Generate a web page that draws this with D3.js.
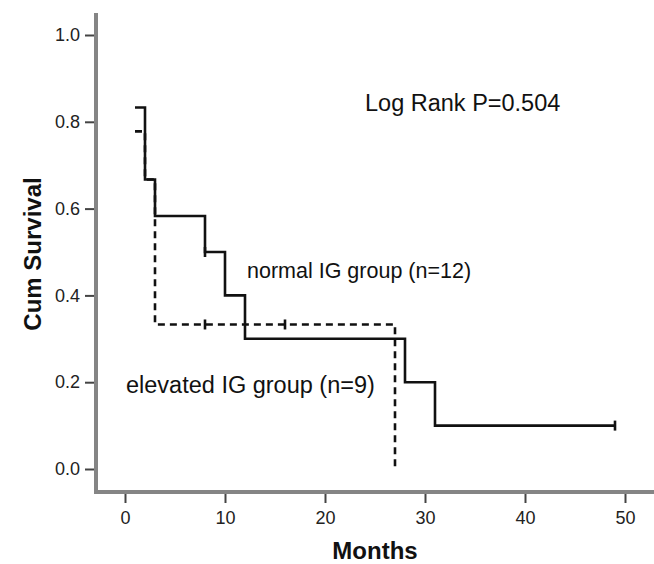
<!DOCTYPE html>
<html>
<head>
<meta charset="utf-8">
<script src="https://cdn.jsdelivr.net/npm/d3@7"></script>
<style>
  body { margin: 0; background: #fff; }
  svg { font-family: "Liberation Sans", Arial, sans-serif; }
  .axis text { font-size: 18px; fill: #222; }
  .axis line { stroke: #444; stroke-width: 2; }
  .axis-label { font-size: 24px; font-weight: bold; fill: #111; }
  .note { fill: #111; }
</style>
</head>
<body>
<div id="km"></div>
<script>
const width = 654, height = 564;

// data
const yTicks = [0, 0.2, 0.4, 0.6, 0.8, 1.0];
const xTicks = [0, 10, 20, 30, 40, 50];

// normal IG group (n=12): step starts and survival
const normalTimes = [1, 2, 3, 8, 10, 12, 28, 31, 49];
const normalSurv = [0.833, 0.667, 0.583, 0.5, 0.4, 0.3, 0.2, 0.1, 0.1];
const normalCensor = [[8, 0.5], [49, 0.1]];

// elevated IG group (n=9)
const elevTimes = [1, 2, 3, 27, 27];
const elevSurv = [0.778, 0.667, 0.333, 0.333, 0];
const elevCensor = [[8, 0.333], [16, 0.333]];

const svg = d3.select("#km")
  .append("svg")
  .attr("width", width)
  .attr("height", height);

const x = d3.scaleLinear().domain([0, 50]).range([125, 625]);
const y = d3.scaleLinear().domain([0, 1]).range([469, 35]);

// axis lines (thick gray, SPSS style)
svg.append("line")
  .attr("x1", 96).attr("x2", 96).attr("y1", 13).attr("y2", 493)
  .attr("stroke", "#858585").attr("stroke-width", 4);
svg.append("line")
  .attr("x1", 94).attr("x2", width).attr("y1", 492).attr("y2", 492)
  .attr("stroke", "#858585").attr("stroke-width", 4);

// y axis ticks
const yAxis = svg.append("g")
  .attr("class", "axis")
  .attr("transform", "translate(94,0)")
  .call(d3.axisLeft(y).tickValues(yTicks).tickSize(9).tickPadding(5).tickFormat(d3.format(".1f")));
yAxis.select(".domain").remove();

// x axis ticks
const xAxis = svg.append("g")
  .attr("class", "axis")
  .attr("transform", "translate(0,494)")
  .call(d3.axisBottom(x).tickValues(xTicks).tickSize(9).tickPadding(8));
xAxis.select(".domain").remove();

// axis labels
svg.append("text")
  .attr("class", "axis-label")
  .attr("transform", "translate(41,254) rotate(-90)")
  .attr("text-anchor", "middle")
  .text("Cum Survival");

svg.append("text")
  .attr("class", "axis-label")
  .attr("x", 375)
  .attr("y", 559)
  .attr("text-anchor", "middle")
  .text("Months");

// survival curves
const line = d3.line()
  .x(d => x(d[0]))
  .y(d => y(d[1]))
  .curve(d3.curveStepAfter);

const normalPts = normalTimes.map((t, i) => [t, normalSurv[i]]);
const elevPts = elevTimes.map((t, i) => [t, elevSurv[i]]);

svg.append("path")
  .datum(elevPts)
  .attr("d", line)
  .attr("fill", "none")
  .attr("stroke", "#111")
  .attr("stroke-width", 2.6)
  .attr("stroke-dasharray", "7,5");

svg.append("path")
  .datum(normalPts)
  .attr("d", line)
  .attr("fill", "none")
  .attr("stroke", "#111")
  .attr("stroke-width", 2.6);

// censor marks
svg.selectAll(".censor")
  .data(normalCensor.concat(elevCensor))
  .join("line")
    .attr("class", "censor")
    .attr("x1", d => x(d[0])).attr("x2", d => x(d[0]))
    .attr("y1", d => y(d[1]) - 5).attr("y2", d => y(d[1]) + 5)
    .attr("stroke", "#111")
    .attr("stroke-width", 2.6);

// annotations
svg.append("text").attr("class", "note")
  .attr("x", 365).attr("y", 111)
  .attr("font-size", "23.5px")
  .text("Log Rank P=0.504");

svg.append("text").attr("class", "note")
  .attr("x", 247).attr("y", 278)
  .attr("font-size", "21.5px")
  .text("normal IG group (n=12)");

svg.append("text").attr("class", "note")
  .attr("x", 126).attr("y", 393)
  .attr("font-size", "23.5px")
  .text("elevated IG group (n=9)");
</script>
</body>
</html>
